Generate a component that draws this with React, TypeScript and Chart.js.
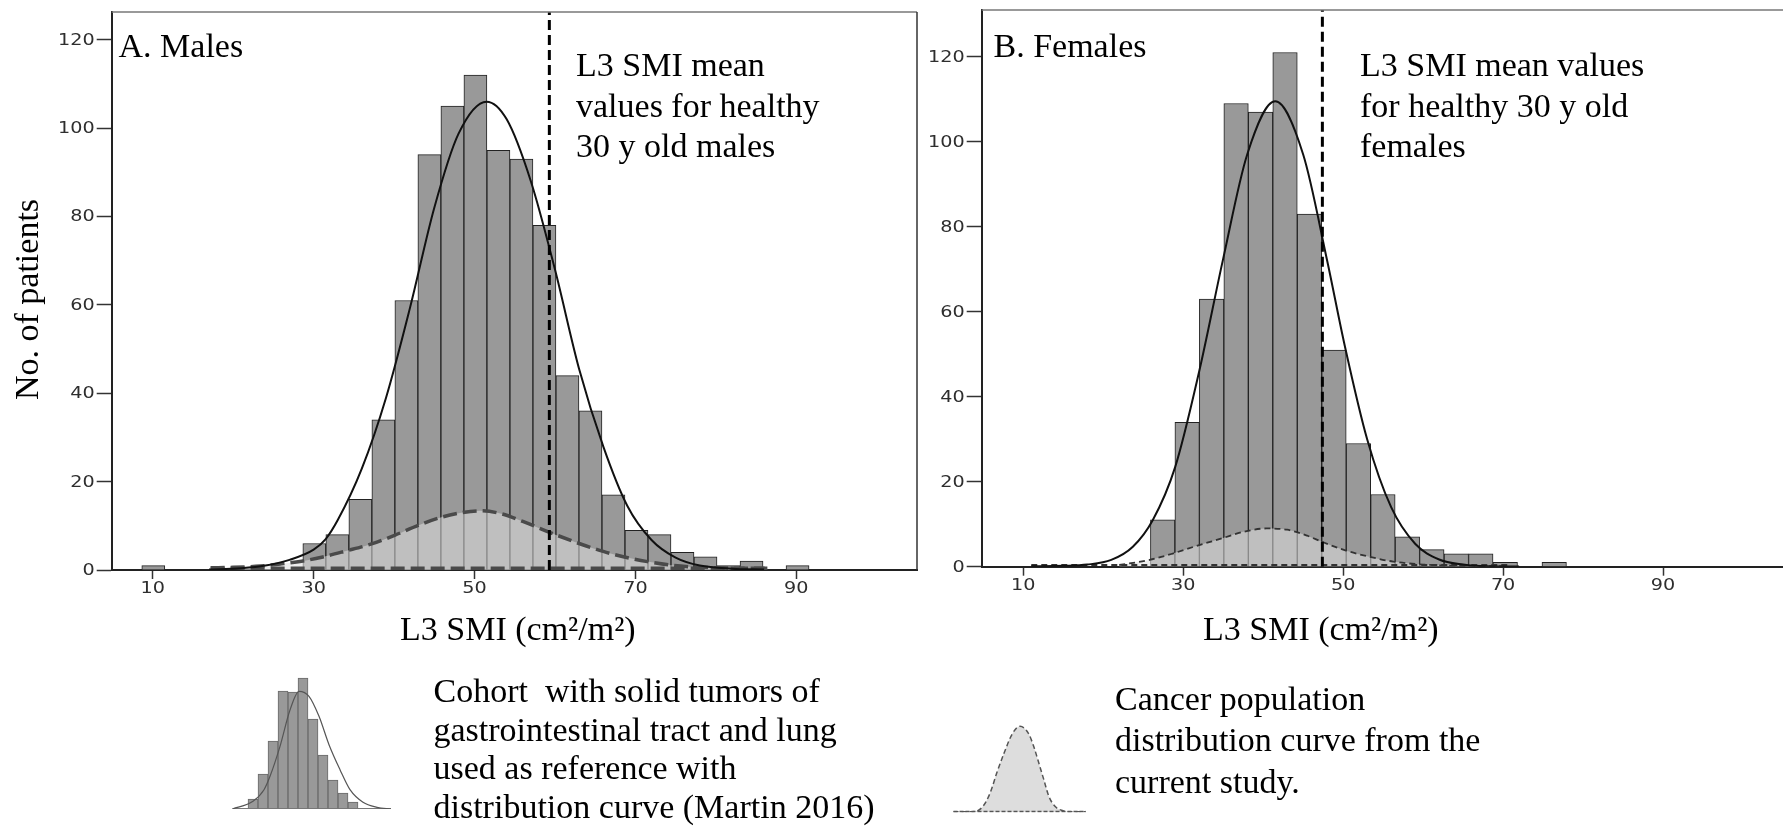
import React, { useEffect, useRef } from 'react';
import { Chart, registerables } from 'chart.js';

Chart.register(...registerables);

// ---------------- data ----------------
const xTicks = [10, 30, 50, 70, 90];
const yTicks = [0, 20, 40, 60, 80, 100, 120];

// Males histogram (bin centres, counts)
const maleBinCenters = [10.07, 30.09, 32.95, 35.81, 38.67, 41.53, 44.39, 47.25, 50.11, 52.97, 55.83, 58.69, 61.55, 64.41, 67.27, 70.13, 72.99, 75.85, 78.71, 81.57, 84.43, 87.29, 90.15];
const maleCounts = [1, 6, 8, 16, 34, 61, 94, 105, 112, 95, 93, 78, 44, 36, 17, 9, 8, 4, 3, 1, 2, 0, 1];
// Males fitted curve of the reference cohort
const maleFitX = [17, 21, 24, 27, 30, 31.5, 33, 36, 39, 42, 45, 48, 51.5, 54, 57, 60, 63, 66, 69, 72, 75, 78, 82, 86];
const maleFitY = [0.1, 0.4, 1.0, 2.3, 4.6, 7.0, 11.3, 23, 39, 59.5, 82, 98.7, 106, 102, 88, 68, 45.5, 28, 14.5, 6.8, 2.8, 1.0, 0.3, 0.1];
// Males cancer population distribution curve (current study)
const maleCancerX = [17.2, 20, 23.4, 26, 28.5, 31, 34, 37.2, 40, 43, 46, 48.5, 50.7, 53.2, 56, 59.5, 63, 66, 68.5, 71.5, 74.4, 77, 80, 83, 86.4];
const maleCancerY = [0.5, 0.6, 0.9, 1.4, 2.0, 2.9, 4.3, 5.9, 7.8, 10.1, 12.0, 13.0, 13.4, 12.8, 11.0, 8.4, 6.0, 4.2, 3.0, 1.9, 1.1, 0.7, 0.5, 0.4, 0.4];
const maleCancerBase = [17.2, 86.4];
const maleHealthyMean = 59.3;

// Females
const femaleBinCenters = [27.43, 30.49, 33.55, 36.61, 39.67, 42.73, 45.79, 48.85, 51.91, 54.97, 58.03, 61.09, 64.15, 67.21, 70.27, 73.33, 76.39];
const femaleCounts = [11, 34, 63, 109, 107, 121, 83, 51, 29, 17, 7, 4, 3, 3, 1, 0, 1];
const femaleFitX = [11, 15, 18, 21, 23.7, 26.2, 29, 32, 35, 38, 41.5, 45, 48, 50.2, 53, 56, 59, 62, 65, 68, 72];
const femaleFitY = [0.1, 0.2, 0.5, 1.6, 4.7, 11, 23.5, 46, 72.5, 97, 109.5, 97, 72, 52, 30, 14, 5.4, 1.7, 0.5, 0.1, 0.05];
const femaleCancerX = [22, 25.8, 28.7, 31.5, 34.9, 37.5, 40.4, 43, 45.5, 47.3, 50, 53.25, 56.25, 60, 65, 70];
const femaleCancerY = [0.4, 1.6, 3.1, 4.8, 6.7, 8.2, 9.0, 8.7, 7.3, 5.9, 4.0, 2.35, 1.2, 0.5, 0.2, 0.1];
const femaleCancerBase = [11, 71];
const femaleHealthyMean = 47.4;

// Legend glyphs
const cohortIconCenters = [0.5, 1.5, 2.5, 3.5, 4.5, 5.5, 6.5, 7.5, 8.5, 9.5, 10.5];
const cohortIconHeights = [10, 35, 68, 118, 117, 131, 90, 54, 29, 16, 7];
const cohortIconCurveX = [-1.55, 0.5, 1.6, 2.2, 3.2, 4.2, 5.1, 6.1, 7.1, 8.1, 9.2, 10.2, 11.5, 12.9, 14.3];
const cohortIconCurveY = [0, 7.7, 19.3, 32.7, 62.7, 99, 117.7, 112.7, 92.7, 64.3, 39.3, 19.3, 6.7, 1.7, 0];
const cohortIconBase = [-1.55, 14.3];
const cancerIconX = [3.5, 20, 26, 33, 40, 47, 54, 62.6, 70, 78.4, 84, 88, 94, 99, 106, 113, 120, 135.8];
const cancerIconY = [0.5, 0.5, 1, 6, 19, 40, 59, 79, 86, 79, 65, 52, 32, 15.6, 5, 1.7, 0.5, 0.5];
const cancerIconBase = [3.5, 135.8];

// Text
const maleLabel = 'A. Males';
const maleNote = ['L3 SMI mean', 'values for healthy', '30 y old males'];
const femaleLabel = 'B. Females';
const femaleNote = ['L3 SMI mean values', 'for healthy 30 y old', 'females'];
const yTitle = 'No. of patients';
const xTitle = 'L3 SMI (cm\u00B2/m\u00B2)';
const legendCohort = ['Cohort  with solid tumors of', 'gastrointestinal tract and lung', 'used as reference with', 'distribution curve (Martin 2016)'];
const legendCancer = ['Cancer population', 'distribution curve from the', 'current study.'];

// ---------------- helpers ----------------
const SERIF = '"Liberation Serif", "Times New Roman", serif';
const TICK_FONT = '15px "DejaVu Sans", Verdana, sans-serif';
const TICK_STRETCH = 1.28;
const zip = (xs: number[], ys: number[]) => xs.map((x, i) => ({ x, y: ys[i] }));

type TextItem = { text: string; x: number; y: number; size?: number; rotate?: boolean; align?: CanvasTextAlign };

function textPlugin(items: TextItem[], L: number, T: number) {
  return {
    id: 'texts',
    afterDraw(chart: any) {
      const ctx = chart.ctx as CanvasRenderingContext2D;
      ctx.save();
      ctx.fillStyle = '#000';
      ctx.textBaseline = 'alphabetic';
      for (const it of items) {
        ctx.font = `${it.size ?? 34}px ${SERIF}`;
        ctx.textAlign = it.align ?? 'left';
        if (it.rotate) {
          ctx.save();
          ctx.translate(it.x - L, it.y - T);
          ctx.rotate(-Math.PI / 2);
          ctx.fillText(it.text, 0, 0);
          ctx.restore();
        } else {
          ctx.fillText(it.text, it.x - L, it.y - T);
        }
      }
      ctx.restore();
    },
  };
}

// Tick labels drawn from the scales' own ticks, in a horizontally stretched face
const tickLabelPlugin = {
  id: 'tickLabels',
  afterDraw(chart: any) {
    const ctx = chart.ctx as CanvasRenderingContext2D;
    const xs = chart.scales.x;
    const ys = chart.scales.y;
    const a = chart.chartArea;
    ctx.save();
    ctx.fillStyle = '#2e2e2e';
    ctx.font = TICK_FONT;
    ctx.textAlign = 'center';
    ctx.textBaseline = 'top';
    for (const t of xs.ticks) {
      const px = xs.getPixelForValue(t.value);
      ctx.save();
      ctx.translate(px, a.bottom + 12);
      ctx.scale(TICK_STRETCH, 1);
      ctx.fillText(String(t.value), 0, 0);
      ctx.restore();
    }
    ctx.textAlign = 'right';
    ctx.textBaseline = 'middle';
    for (const t of ys.ticks) {
      const py = ys.getPixelForValue(t.value);
      ctx.save();
      ctx.translate(a.left - 17, py + 1);
      ctx.scale(TICK_STRETCH, 1);
      ctx.fillText(String(t.value), 0, 0);
      ctx.restore();
    }
    ctx.restore();
  },
};

const framePlugin = {
  id: 'frame',
  afterDatasetsDraw(chart: any) {
    const { ctx, chartArea: a } = chart;
    ctx.save();
    ctx.lineWidth = 1.5;
    ctx.strokeStyle = '#777';
    ctx.beginPath();
    ctx.moveTo(a.left, a.top);
    ctx.lineTo(a.right, a.top);
    ctx.stroke();
    ctx.strokeStyle = '#333';
    ctx.beginPath();
    ctx.moveTo(a.right, a.top);
    ctx.lineTo(a.right, a.bottom);
    ctx.stroke();
    ctx.restore();
  },
};

type Panel = {
  L: number; T: number; W: number; H: number;
  CL: number; CT: number; CR: number; CB: number; XH: number;
  xMin: number; xMax: number; yMax: number;
  centers: number[]; counts: number[];
  fitX: number[]; fitY: number[];
  cancerX: number[]; cancerY: number[]; cancerBase: number[];
  mean: number;
  cancerLine: { width: number; dash: number[]; color: string };
  texts: TextItem[];
};

const malePanel: Panel = {
  L: 0, T: -20, W: 935, H: 850,
  CL: 111.7, CT: 12, CR: 917, CB: 570, XH: 40,
  xMin: 4.9, xMax: 105.0, yMax: 126.3,
  centers: maleBinCenters, counts: maleCounts,
  fitX: maleFitX, fitY: maleFitY,
  cancerX: maleCancerX, cancerY: maleCancerY, cancerBase: maleCancerBase,
  mean: maleHealthyMean,
  cancerLine: { width: 3.5, dash: [14, 6], color: '#4a4a4a' },
  texts: [
    { text: maleLabel, x: 118.5, y: 57 },
    ...maleNote.map((t, i) => ({ text: t, x: 576, y: 76 + i * 40.5 })),
    { text: yTitle, x: 38, y: 299.5, rotate: true, align: 'center' as CanvasTextAlign },
    { text: xTitle, x: 400, y: 640 },
    ...legendCohort.map((t, i) => ({ text: t, x: 433.5, y: 702 + i * 38.5 })),
  ],
};

const femalePanel: Panel = {
  L: 870, T: -20, W: 932, H: 850,
  CL: 981.7, CT: 10, CR: 1787, CB: 566.7, XH: 43,
  xMin: 4.8, xMax: 105.5, yMax: 131,
  centers: femaleBinCenters, counts: femaleCounts,
  fitX: femaleFitX, fitY: femaleFitY,
  cancerX: femaleCancerX, cancerY: femaleCancerY, cancerBase: femaleCancerBase,
  mean: femaleHealthyMean,
  cancerLine: { width: 1.8, dash: [6, 4], color: '#333' },
  texts: [
    { text: femaleLabel, x: 993.5, y: 57 },
    ...femaleNote.map((t, i) => ({ text: t, x: 1360, y: 76 + i * 40.5 })),
    { text: xTitle, x: 1203, y: 640 },
    ...legendCancer.map((t, i) => ({ text: t, x: 1115, y: 709.5 + i * 41.5 })),
  ],
};

function buildPanel(canvas: HTMLCanvasElement, p: Panel) {
  return new Chart(canvas, {
    type: 'bar',
    data: {
      datasets: [
        {
          type: 'line',
          data: [{ x: p.mean, y: 0 }, { x: p.mean, y: p.yMax }],
          borderColor: '#000', borderWidth: 3, borderDash: [10, 5],
          pointRadius: 0, fill: false, tension: 0, order: 1,
        },
        {
          type: 'line',
          data: zip(p.fitX, p.fitY),
          borderColor: '#111', borderWidth: 2, pointRadius: 0, fill: false,
          cubicInterpolationMode: 'monotone', order: 2,
        },
        {
          type: 'line',
          data: p.cancerBase.map((x) => ({ x, y: 0.4 })),
          borderColor: p.cancerLine.color, borderWidth: p.cancerLine.width, borderDash: p.cancerLine.dash,
          pointRadius: 0, fill: false, tension: 0, order: 3,
        },
        {
          type: 'line',
          data: zip(p.cancerX, p.cancerY),
          borderColor: p.cancerLine.color, borderWidth: p.cancerLine.width, borderDash: p.cancerLine.dash,
          backgroundColor: 'rgba(222,222,222,0.55)', fill: 'origin',
          pointRadius: 0, cubicInterpolationMode: 'monotone', order: 4,
        },
        {
          type: 'bar',
          data: zip(p.centers, p.counts),
          backgroundColor: '#999999', borderColor: '#222', borderWidth: 1,
          barPercentage: 1, categoryPercentage: 1, order: 10,
        },
      ] as any,
    },
    options: {
      responsive: false,
      animation: false,
      devicePixelRatio: 1,
      layout: {
        padding: {
          left: 0,
          top: p.CT - p.T,
          right: p.L + p.W - p.CR,
          bottom: p.T + p.H - p.CB - p.XH,
        },
      },
      plugins: { legend: { display: false }, tooltip: { enabled: false }, title: { display: false } },
      scales: {
        x: {
          type: 'linear', min: p.xMin, max: p.xMax, offset: false,
          afterBuildTicks: (s: any) => { s.ticks = xTicks.map((v) => ({ value: v })); },
          afterFit: (s: any) => { s.height = p.XH; },
          grid: { display: true, offset: false, drawOnChartArea: false, drawTicks: true, tickLength: 9, tickColor: '#333', tickWidth: 1.5 },
          border: { display: true, color: '#222', width: 2 },
          ticks: { display: false, autoSkip: false },
        },
        y: {
          type: 'linear', min: 0, max: p.yMax,
          afterBuildTicks: (s: any) => { s.ticks = yTicks.map((v) => ({ value: v })); },
          afterFit: (s: any) => { s.width = p.CL - p.L; },
          grid: { display: true, offset: false, drawOnChartArea: false, drawTicks: true, tickLength: 15, tickColor: '#333', tickWidth: 1.5 },
          border: { display: true, color: '#222', width: 2 },
          ticks: { display: false, autoSkip: false },
        },
      },
    } as any,
    plugins: [framePlugin, tickLabelPlugin, textPlugin(p.texts, p.L, p.T)],
  });
}

function buildCohortIcon(canvas: HTMLCanvasElement) {
  return new Chart(canvas, {
    type: 'bar',
    data: {
      datasets: [
        {
          type: 'line', data: zip(cohortIconCurveX, cohortIconCurveY),
          borderColor: '#555', borderWidth: 1.2, pointRadius: 0, fill: false,
          cubicInterpolationMode: 'monotone', order: 1,
        },
        {
          type: 'line', data: cohortIconBase.map((x) => ({ x, y: 0.5 })),
          borderColor: '#777', borderWidth: 1, pointRadius: 0, fill: false, order: 2,
        },
        {
          type: 'bar', data: zip(cohortIconCenters, cohortIconHeights),
          backgroundColor: '#999999', borderColor: '#6a6a6a', borderWidth: 1,
          barPercentage: 1, categoryPercentage: 1, order: 10,
        },
      ] as any,
    },
    options: {
      responsive: false, animation: false, devicePixelRatio: 1,
      layout: { padding: { left: 0, right: 0, top: 0, bottom: 3 } },
      plugins: { legend: { display: false }, tooltip: { enabled: false } },
      scales: {
        x: { type: 'linear', display: false, min: -1.6, max: 14.4, offset: false, grid: { offset: false } },
        y: { type: 'linear', display: false, min: 0, max: 139 },
      },
    } as any,
  });
}

function buildCancerIcon(canvas: HTMLCanvasElement) {
  return new Chart(canvas, {
    type: 'line',
    data: {
      datasets: [
        {
          data: zip(cancerIconX, cancerIconY),
          borderColor: '#555', borderWidth: 1.5, borderDash: [5, 3],
          backgroundColor: '#dddddd', fill: 'origin', pointRadius: 0,
          cubicInterpolationMode: 'monotone', order: 2,
        },
        {
          data: cancerIconBase.map((x) => ({ x, y: 0.5 })),
          borderColor: '#555', borderWidth: 2, borderDash: [4, 2],
          pointRadius: 0, fill: false, order: 1,
        },
      ] as any,
    },
    options: {
      responsive: false, animation: false, devicePixelRatio: 1,
      layout: { padding: { left: 0, right: 0, top: 0, bottom: 3.7 } },
      plugins: { legend: { display: false }, tooltip: { enabled: false } },
      scales: {
        x: { type: 'linear', display: false, min: 0, max: 140 },
        y: { type: 'linear', display: false, min: 0, max: 92.3 },
      },
    } as any,
  });
}

export default function App() {
  const maleRef = useRef<HTMLCanvasElement>(null);
  const femaleRef = useRef<HTMLCanvasElement>(null);
  const icon1Ref = useRef<HTMLCanvasElement>(null);
  const icon2Ref = useRef<HTMLCanvasElement>(null);

  useEffect(() => {
    const charts: Chart[] = [];
    if (maleRef.current) charts.push(buildPanel(maleRef.current, malePanel));
    if (femaleRef.current) charts.push(buildPanel(femaleRef.current, femalePanel));
    if (icon1Ref.current) charts.push(buildCohortIcon(icon1Ref.current));
    if (icon2Ref.current) charts.push(buildCancerIcon(icon2Ref.current));
    return () => charts.forEach((c) => c.destroy());
  }, []);

  const abs = (l: number, t: number, w: number, h: number): React.CSSProperties => ({
    position: 'absolute', left: l, top: t, width: w, height: h,
  });

  return (
    <div style={{ position: 'fixed', left: 0, top: 0, width: 1783, height: 830, overflow: 'hidden', background: '#fff' }}>
      <canvas ref={maleRef} width={malePanel.W} height={malePanel.H} style={abs(malePanel.L, malePanel.T, malePanel.W, malePanel.H)} />
      <canvas ref={femaleRef} width={femalePanel.W} height={femalePanel.H} style={abs(femalePanel.L, femalePanel.T, femalePanel.W, femalePanel.H)} />
      <canvas ref={icon1Ref} width={160} height={142} style={abs(232, 670, 160, 142)} />
      <canvas ref={icon2Ref} width={140} height={96} style={abs(950, 720, 140, 96)} />
    </div>
  );
}
